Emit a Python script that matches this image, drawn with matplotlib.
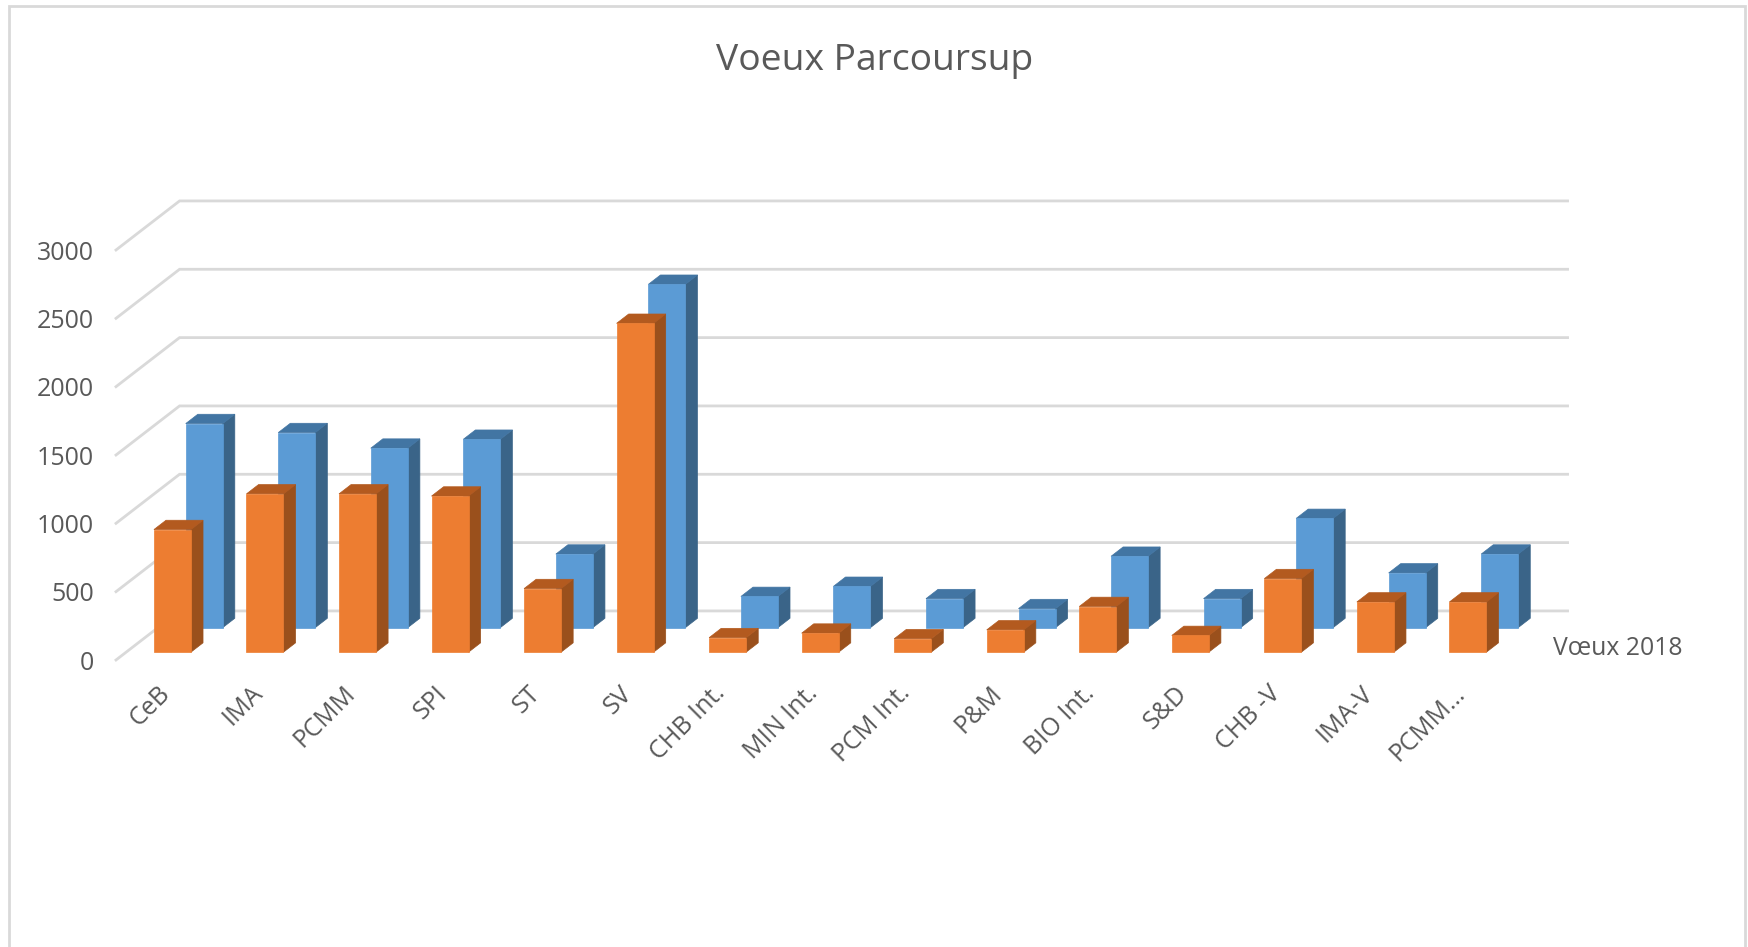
import matplotlib
matplotlib.use("Agg")
import matplotlib.pyplot as plt
from matplotlib.patches import Polygon, Rectangle
from matplotlib.transforms import ScaledTranslation

plt.rcParams['font.family'] = ['Open Sans', 'DejaVu Sans']

categories = ['CeB', 'IMA', 'PCMM', 'SPI', 'ST', 'SV', 'CHB Int.', 'MIN Int.', 'PCM Int.',
              'P&M', 'BIO Int.', 'S&D', 'CHB -V', 'IMA-V', 'PCMM…']
voeux_2018 = [897, 1158, 1158, 1142, 465, 2406, 106, 139, 98, 163, 334, 122, 538, 367, 367]
voeux_back = [1493, 1427, 1313, 1378, 538, 2512, 228, 302, 212, 139, 522, 212, 799, 400, 538]
yticks = [0, 500, 1000, 1500, 2000, 2500, 3000]

# fake 3d: how far one unit of depth moves things, in data units
DX = 0.687
DY = 359
BAR_W = 0.40
BAR_D = 0.19
TEXT = '#595959'
GRID = '#d9d9d9'

W, H = 1748, 947
fig = plt.figure(figsize=(W / 100, H / 100), dpi=100, facecolor='white')
ax = fig.add_axes([116 / W, 1 - 660 / H, 1388 / W, 410 / H])
ax.set_xlim(-0.5, 14.5)
ax.set_ylim(0, 3000)
for s in ax.spines.values():
    s.set_visible(False)
ax.patch.set_alpha(0)


def draw_bar(i, value, depth, front, side, top, z):
    x0 = i - BAR_W / 2 + DX * depth
    x1 = x0 + BAR_W
    y0 = DY * depth
    y1 = y0 + value
    ox, oy = DX * BAR_D, DY * BAR_D
    ax.add_patch(Polygon([(x1, y0), (x1 + ox, y0 + oy), (x1 + ox, y1 + oy), (x1, y1)],
                         fc=side, ec=side, lw=0.5, clip_on=False, zorder=z))
    ax.add_patch(Polygon([(x0, y1), (x1, y1), (x1 + ox, y1 + oy), (x0 + ox, y1 + oy)],
                         fc=top, ec=top, lw=0.5, clip_on=False, zorder=z))
    ax.add_patch(Rectangle((x0, y0), BAR_W, value, fc=front, ec=front, lw=0.5, clip_on=False, zorder=z))


# gridlines on the back wall + the slanted bit on the left
for v in yticks:
    ax.plot([-0.5, -0.5 + DX, 14.5 + DX], [v, v + DY, v + DY], color=GRID, lw=2,
            clip_on=False, zorder=1, solid_joinstyle='miter')

for i in range(len(categories)):
    draw_bar(i, voeux_back[i], 0.66, '#5b9bd5', '#3a6488', '#4275a3', 3)
for i in range(len(categories)):
    draw_bar(i, voeux_2018[i], 0.16, '#ed7d31', '#9a501c', '#b35a1f', 4)

ax.set_yticks(yticks)
ax.set_xticks(range(len(categories)))
ax.set_xticklabels(categories, rotation=45, ha='right', rotation_mode='anchor')
ax.tick_params(axis='both', length=0, labelsize=18, labelcolor=TEXT)
ax.tick_params(axis='y', pad=16)
ax.tick_params(axis='x', pad=15)
shift = ScaledTranslation(-5 / 100, 0, fig.dpi_scale_trans)
for lab in ax.get_xticklabels():
    lab.set_transform(lab.get_transform() + shift)

ax.text(15.03, 85, 'Vœux 2018', fontsize=17.8, color=TEXT, ha='left', va='center')
fig.text(875 / W, 1 - 61 / H, 'Voeux Parcoursup', fontsize=26.8, color=TEXT, ha='center', va='center')

# chart frame
fig.add_artist(Rectangle((9 / W, -0.05), (1745 - 9) / W, 1.05 - 6 / H, transform=fig.transFigure,
                         fc='none', ec=GRID, lw=2))

fig.savefig('out.png', dpi=100)
